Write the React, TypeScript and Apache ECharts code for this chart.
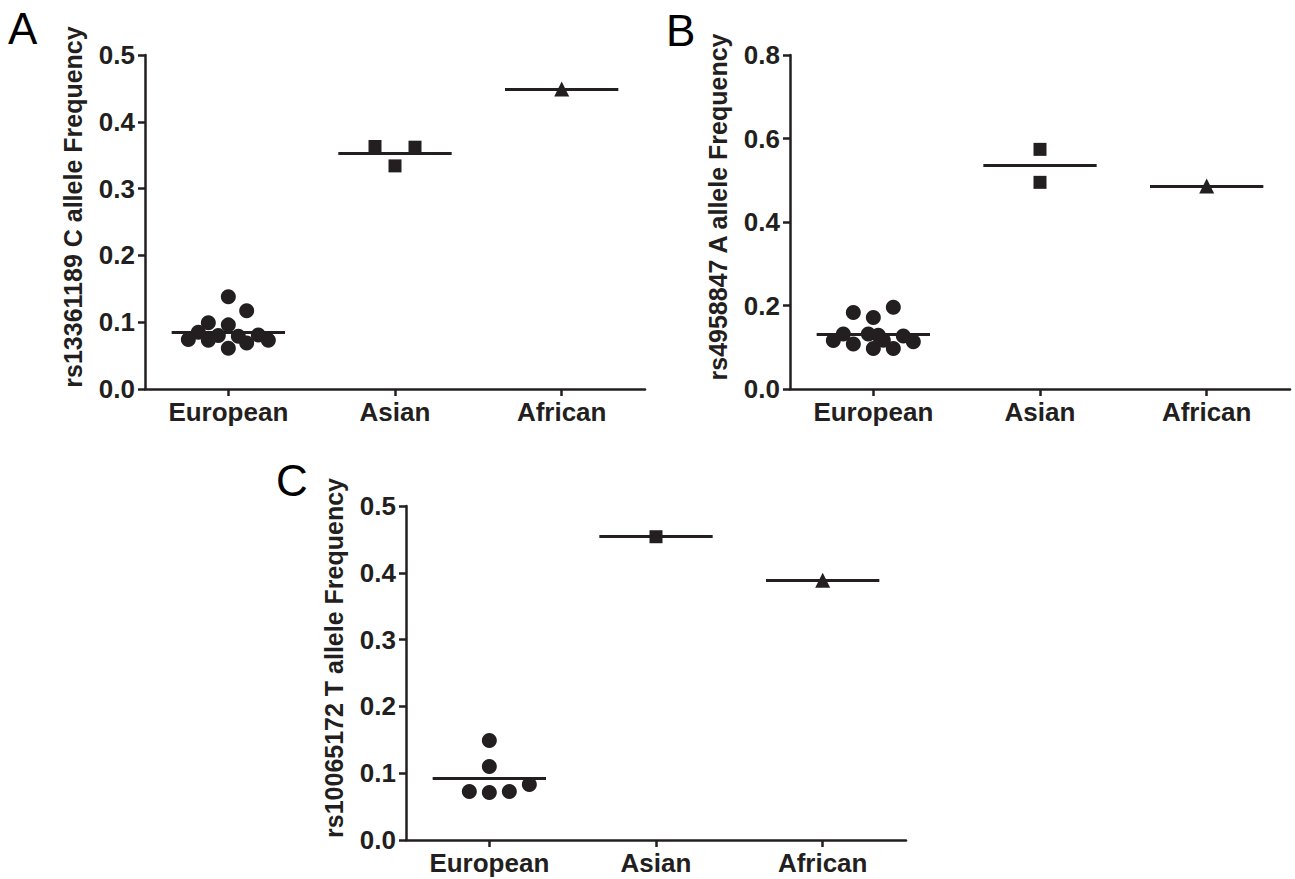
import React, { useEffect, useRef } from "react";
import * as echarts from "echarts";

const CATEGORIES = ["European", "Asian", "African"];

// Panel A: rs13361189 C allele Frequency
const A_EUROPEAN = [0.138, 0.117, 0.099, 0.096, 0.085, 0.074, 0.073, 0.061, 0.069, 0.081, 0.073, 0.080, 0.079];
const A_EUROPEAN_JITTER = [0, 0.11, -0.12, 0, -0.18, -0.24, -0.12, 0, 0.11, 0.18, 0.24, -0.06, 0.06];
const A_ASIAN = [0.363, 0.362, 0.334];
const A_ASIAN_JITTER = [-0.12, 0.12, 0];
const A_AFRICAN = [0.449];
const A_AFRICAN_JITTER = [0];
const A_MEDIANS = [0.085, 0.353, 0.449];

// Panel B: rs4958847 A allele Frequency
const B_EUROPEAN = [0.183, 0.171, 0.196, 0.132, 0.116, 0.108, 0.132, 0.129, 0.097, 0.117, 0.097, 0.127, 0.113];
const B_EUROPEAN_JITTER = [-0.12, 0, 0.12, -0.18, -0.24, -0.12, -0.03, 0.03, 0, 0.06, 0.12, 0.18, 0.24];
const B_ASIAN = [0.574, 0.495];
const B_ASIAN_JITTER = [0, 0];
const B_AFRICAN = [0.486];
const B_AFRICAN_JITTER = [0];
const B_MEDIANS = [0.132, 0.535, 0.486];

// Panel C: rs10065172 T allele Frequency
const C_EUROPEAN = [0.149, 0.110, 0.0725, 0.071, 0.0725, 0.083];
const C_EUROPEAN_JITTER = [0, 0, -0.12, 0, 0.12, 0.24];
const C_ASIAN = [0.454];
const C_ASIAN_JITTER = [0];
const C_AFRICAN = [0.389];
const C_AFRICAN_JITTER = [0];
const C_MEDIANS = [0.093, 0.454, 0.389];

const INK = "#231f20";
const FONT = "'Liberation Sans', Arial, Helvetica, sans-serif";
const MEDIAN_HALF = 0.34;

const SYMBOLS = ["circle", "rect", "triangle"];
const SYMBOL_SIZES = [15, 13, 15];

type Panel = {
  letter: string;
  title: string;
  grid: { left: number; top: number; width: number; height: number };
  max: number;
  interval: number;
  groups: number[][];
  jitters: number[][];
  medians: number[];
  letterPos: [number, number];
};

const PANELS: Panel[] = [
  {
    letter: "A",
    title: "rs13361189 C allele Frequency",
    grid: { left: 145, top: 55, width: 500, height: 334 },
    max: 0.5,
    interval: 0.1,
    groups: [A_EUROPEAN, A_ASIAN, A_AFRICAN],
    jitters: [A_EUROPEAN_JITTER, A_ASIAN_JITTER, A_AFRICAN_JITTER],
    medians: A_MEDIANS,
    letterPos: [8, 6],
  },
  {
    letter: "B",
    title: "rs4958847 A allele Frequency",
    grid: { left: 790, top: 55, width: 500, height: 334 },
    max: 0.8,
    interval: 0.2,
    groups: [B_EUROPEAN, B_ASIAN, B_AFRICAN],
    jitters: [B_EUROPEAN_JITTER, B_ASIAN_JITTER, B_AFRICAN_JITTER],
    medians: B_MEDIANS,
    letterPos: [666, 8],
  },
  {
    letter: "C",
    title: "rs10065172 T allele Frequency",
    grid: { left: 406, top: 506, width: 500, height: 334 },
    max: 0.5,
    interval: 0.1,
    groups: [C_EUROPEAN, C_ASIAN, C_AFRICAN],
    jitters: [C_EUROPEAN_JITTER, C_ASIAN_JITTER, C_AFRICAN_JITTER],
    medians: C_MEDIANS,
    letterPos: [276, 458],
  },
];

function buildOption() {
  const grid: any[] = [];
  const xAxis: any[] = [];
  const yAxis: any[] = [];
  const series: any[] = [];
  const graphic: any[] = [];

  PANELS.forEach((p, i) => {
    grid.push({ ...p.grid, containLabel: false });
    xAxis.push({
      type: "category",
      gridIndex: i,
      data: CATEGORIES,
      boundaryGap: true,
      position: "bottom",
      axisLine: { show: true, onZero: false, lineStyle: { color: INK, width: 2.5 } },
      axisTick: { show: true, alignWithLabel: true, length: 7, lineStyle: { color: INK, width: 2.5 } },
      axisLabel: { fontSize: 26, fontWeight: "bold", color: INK, margin: 10, fontFamily: FONT },
      splitLine: { show: false },
    });
    xAxis.push({
      type: "value",
      gridIndex: i,
      min: -0.5,
      max: 2.5,
      show: false,
      axisLine: { onZero: false },
    });
    yAxis.push({
      type: "value",
      gridIndex: i,
      min: 0,
      max: p.max,
      interval: p.interval,
      position: "left",
      name: p.title,
      nameLocation: "middle",
      nameGap: 60,
      nameRotate: 90,
      nameTextStyle: {
        fontSize: 25,
        fontWeight: "bold",
        color: INK,
        fontFamily: FONT,
        padding: [0, 0, 0, 30],
      },
      axisLine: { show: true, onZero: false, lineStyle: { color: INK, width: 2.5 } },
      axisTick: { show: true, length: 7, lineStyle: { color: INK, width: 2.5 } },
      axisLabel: {
        fontSize: 26,
        fontWeight: "bold",
        color: INK,
        margin: 10,
        fontFamily: FONT,
        formatter: (v: number) => v.toFixed(1),
      },
      splitLine: { show: false },
    });

    p.groups.forEach((vals, k) => {
      const jit = p.jitters[k];
      series.push({
        type: "scatter",
        name: `${p.letter} ${CATEGORIES[k]}`,
        xAxisIndex: 2 * i + 1,
        yAxisIndex: i,
        symbol: SYMBOLS[k],
        symbolSize: SYMBOL_SIZES[k],
        itemStyle: { color: INK, opacity: 1 },
        data: vals.map((v, j) => [k + jit[j], v]),
        z: 3,
        markLine: {
          silent: true,
          symbol: ["none", "none"],
          label: { show: false },
          lineStyle: { color: INK, width: 3, type: "solid" },
          z: 2,
          data: [
            [
              { coord: [k - MEDIAN_HALF, p.medians[k]] },
              { coord: [k + MEDIAN_HALF, p.medians[k]] },
            ],
          ],
        },
      });
    });

    graphic.push({
      type: "text",
      left: p.letterPos[0],
      top: p.letterPos[1],
      style: { text: p.letter, fontSize: 44, fontFamily: FONT, fill: "#000" },
    });
  });

  return {
    animation: false,
    backgroundColor: "#ffffff",
    grid,
    xAxis,
    yAxis,
    series,
    graphic,
  };
}

export default function App() {
  const ref = useRef<HTMLDivElement>(null);
  useEffect(() => {
    if (!ref.current) return;
    const chart = echarts.init(ref.current, undefined, { renderer: "svg" });
    chart.setOption(buildOption() as any);
    return () => chart.dispose();
  }, []);
  return (
    <div
      ref={ref}
      style={{ position: "absolute", left: 0, top: 0, width: 1295, height: 879, background: "#fff" }}
    />
  );
}
